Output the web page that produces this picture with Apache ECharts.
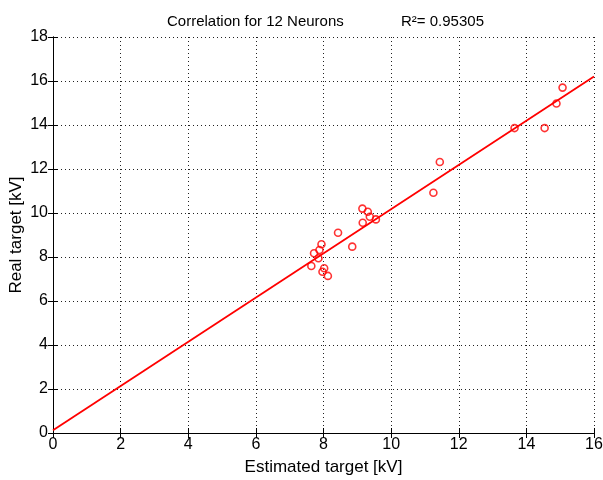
<!DOCTYPE html>
<html>
<head>
<meta charset="utf-8">
<script src="https://cdn.jsdelivr.net/npm/echarts@6/dist/echarts.min.js"></script>
<style>
  html, body { margin: 0; padding: 0; background: #fff; }
  #chart { width: 603px; height: 480px; }
</style>
</head>
<body>
<div id="chart"></div>
<script>
// estimated vs real target (kV)
const estimated = [9.15, 9.31, 9.37, 9.55, 9.16, 11.25, 8.43, 8.85, 7.94, 7.88, 7.72,
  7.85, 7.64, 8.02, 7.97, 8.13, 11.44, 13.65, 14.54, 14.89, 15.07]
const real = [10.20, 10.06, 9.83, 9.71, 9.56, 10.92, 9.10, 8.47, 8.58, 8.32, 8.17,
  7.94, 7.59, 7.49, 7.33, 7.14, 12.32, 13.86, 13.86, 14.98, 15.70]

// regression line end points
const fitX = [0, 16]
const fitY = [0.12, 16.2]

const points = estimated.map((x, i) => [x, real[i]])
const fitLine = fitX.map((x, i) => [x, fitY[i]])

const font = 'Arial, "Liberation Sans", sans-serif'

const gridDots = { show: true, lineStyle: { color: '#222', type: [1, 3], width: 1 } }

const option = {
  backgroundColor: '#fff',
  animation: false,
  title: [
    {
      text: 'Correlation for 12 Neurons',
      left: 162,
      top: 9,
      textStyle: { fontFamily: font, fontSize: 15, fontWeight: 'normal', color: '#000' },
    },
    {
      text: 'R²= 0.95305',
      left: 396,
      top: 9,
      textStyle: { fontFamily: font, fontSize: 15, fontWeight: 'normal', color: '#000' },
    },
  ],
  grid: { left: 53, right: 9, top: 37, bottom: 47, outerBoundsMode: 'none' },
  xAxis: [
    {
      type: 'value',
      min: 0,
      max: 16,
      interval: 2,
      name: 'Estimated target [kV]',
      nameLocation: 'middle',
      nameGap: 26,
      nameTextStyle: { fontFamily: font, fontSize: 17, color: '#000' },
      axisLine: { lineStyle: { color: '#000', width: 1 } },
      axisTick: { inside: true, length: 5, lineStyle: { color: '#000' } },
      axisLabel: { fontFamily: font, fontSize: 16, color: '#000', margin: 4 },
      splitLine: gridDots,
    },
    {
      type: 'value',
      position: 'top',
      min: 0,
      max: 16,
      interval: 2,
      axisLine: { show: true, lineStyle: { color: '#000', width: 1 } },
      axisTick: { show: true, inside: true, length: 5, lineStyle: { color: '#000' } },
      axisLabel: { show: false },
      splitLine: { show: false },
    },
  ],
  yAxis: [
    {
      type: 'value',
      min: 0,
      max: 18,
      interval: 2,
      name: 'Real target [kV]',
      nameLocation: 'middle',
      nameGap: 28,
      nameMoveOverlap: false,
      nameTextStyle: { fontFamily: font, fontSize: 17, color: '#000' },
      axisLine: { show: true, lineStyle: { color: '#000', width: 1 } },
      axisTick: { show: true, inside: true, length: 5, lineStyle: { color: '#000' } },
      axisLabel: { fontFamily: font, fontSize: 16, color: '#000', margin: 5 },
      splitLine: gridDots,
    },
    {
      type: 'value',
      position: 'right',
      min: 0,
      max: 18,
      interval: 2,
      axisLine: { show: true, lineStyle: { color: '#000', width: 1 } },
      axisTick: { show: true, inside: true, length: 5, lineStyle: { color: '#000' } },
      axisLabel: { show: false },
      splitLine: { show: false },
    },
  ],
  series: [
    {
      type: 'line',
      data: fitLine,
      showSymbol: false,
      lineStyle: { color: '#f00', width: 1.8 },
      z: 2,
    },
    {
      type: 'scatter',
      data: points,
      symbol: 'circle',
      symbolSize: 7,
      itemStyle: { color: 'rgba(0,0,0,0)', borderColor: '#f00', borderWidth: 1.6 },
      z: 3,
    },
  ],
}

const chartObj = echarts.init(document.getElementById('chart'))
chartObj.setOption(option)
</script>
</body>
</html>
